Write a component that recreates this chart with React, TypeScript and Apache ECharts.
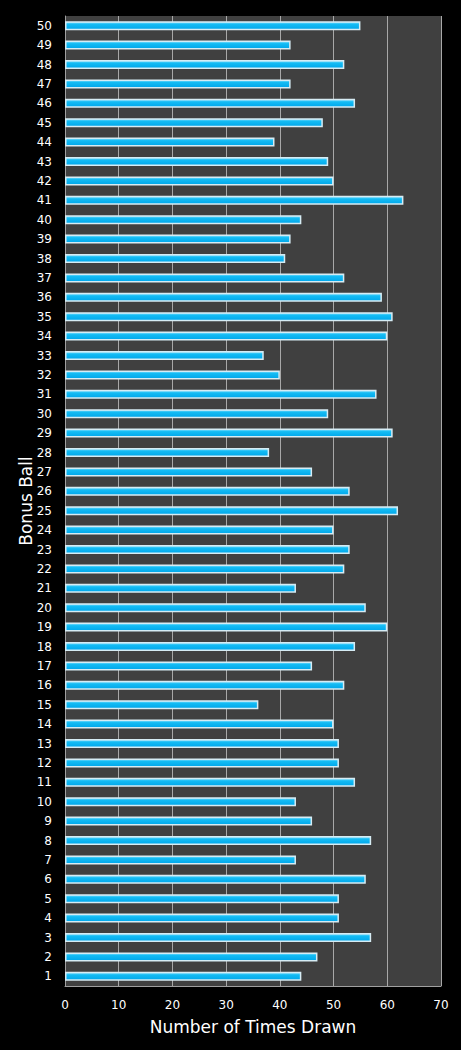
import React, { useEffect, useRef } from "react";
import * as echarts from "echarts";

const balls: string[] = Array.from({ length: 50 }, (_, i) => String(i + 1));
const timesDrawn: number[] = [
  44, 47, 57, 51, 51, 56, 43, 57, 46, 43,
  54, 51, 51, 50, 36, 52, 46, 54, 60, 56,
  43, 52, 53, 50, 62, 53, 46, 38, 61, 49,
  58, 40, 37, 60, 61, 59, 52, 41, 42, 44,
  63, 50, 49, 39, 48, 54, 42, 52, 42, 55,
];
const xMin = 0;
const xMax = 70;
const xStep = 10;

export default function App() {
  const ref = useRef<HTMLDivElement>(null);
  useEffect(() => {
    document.body.style.margin = "0";
    document.body.style.background = "#000";
    if (!ref.current) return;
    const chart = echarts.init(ref.current, undefined, { renderer: "svg" });
    const font = "'DejaVu Sans', Verdana, sans-serif";
    chart.setOption({
      animation: false,
      backgroundColor: "#000000",
      grid: {
        left: 65,
        right: 20,
        top: 16,
        bottom: 64,
        show: true,
        backgroundColor: "#404040",
        borderWidth: 0,
      },
      xAxis: {
        type: "value",
        min: xMin,
        max: xMax,
        interval: xStep,
        name: "Number of Times Drawn",
        nameLocation: "middle",
        nameGap: 32,
        nameMoveOverlap: false,
        nameTextStyle: { color: "#ffffff", fontSize: 17, fontFamily: font },
        axisLine: { show: true, lineStyle: { color: "#a0a0a0", width: 1 } },
        axisTick: { show: false },
        axisLabel: { color: "#ffffff", fontSize: 12, fontFamily: font, margin: 13 },
        splitLine: { show: true, lineStyle: { color: "#a8a8a8", width: 1 } },
      },
      yAxis: {
        type: "category",
        data: balls,
        name: "Bonus Ball",
        nameLocation: "middle",
        nameGap: 31,
        nameMoveOverlap: false,
        nameRotate: 90,
        nameTextStyle: { color: "#ffffff", fontSize: 17, fontFamily: font },
        axisLine: { show: true, lineStyle: { color: "#a0a0a0", width: 1 } },
        axisTick: { show: false },
        axisLabel: { color: "#ffffff", fontSize: 12, fontFamily: font, margin: 13, interval: 0 },
        splitLine: { show: false },
      },
      series: [
        {
          type: "bar",
          data: timesDrawn,
          barWidth: 9,
          itemStyle: {
            color: new echarts.graphic.LinearGradient(0, 0, 0, 1, [
              { offset: 0, color: "#8fe3ff" },
              { offset: 0.3, color: "#14bcf4" },
              { offset: 1, color: "#00a6ea" },
            ]),
            borderColor: "#d6ecf4",
            borderWidth: 1.5,
          },
        },
      ],
    });
    return () => chart.dispose();
  }, []);
  return <div ref={ref} style={{ width: 461, height: 1050 }} />;
}
